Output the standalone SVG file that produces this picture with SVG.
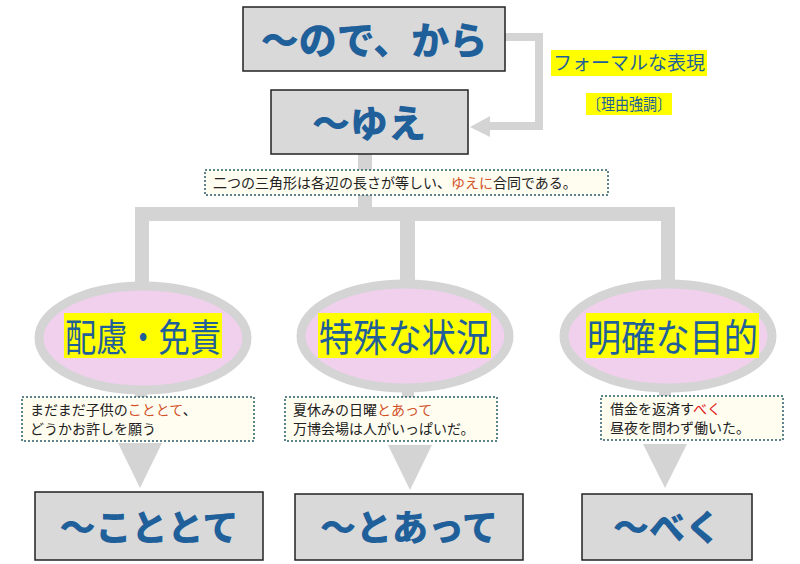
<svg xmlns="http://www.w3.org/2000/svg" width="800" height="564" viewBox="0 0 800 564">
<style>
.box{fill:#d9d9d9;stroke:#222;stroke-width:1.5}
.big{font-family:"Noto Sans CJK JP",sans-serif;font-weight:900;fill:#1f5f9a;text-anchor:middle}
.ell{fill:#f0d0ec;stroke:#d4d4d4;stroke-width:9}
.lab{font-family:"Noto Sans CJK JP",sans-serif;font-size:38px;fill:#1f5f9a}
.hl{fill:#ffff00}
.note{fill:#fffdf0;stroke:#2a5d6a;stroke-width:1.5;stroke-dasharray:2 2}
.nt{font-family:"Noto Sans CJK JP",sans-serif;font-size:14px;fill:#222}
.red{fill:#d2522a}
.g{fill:#d4d4d4}
</style>
<g id="connectors" class="g">
<polygon points="505,33 543,33 543,130 490,130 490,137 470,127 490,116 490,122 535,122 535,41 505,41"/>
<rect x="358" y="154" width="14" height="62"/>
<rect x="135" y="207" width="540" height="14"/>
<rect x="135" y="207" width="14" height="78"/>
<rect x="400" y="207" width="15" height="75"/>
<rect x="661" y="207" width="14" height="75"/>
<rect x="135" y="390" width="12" height="10"/>
<rect x="402" y="390" width="12" height="10"/>
<rect x="659" y="390" width="12" height="10"/>
<polygon points="118,443 162,443 140,488"/>
<polygon points="388,445 432,445 410,490"/>
<polygon points="643,444 687,444 665,488"/>
</g>
<g id="n1"><rect class="box" x="243" y="7" width="262" height="64"/><text class="big" x="374" y="54" font-size="38">～ので、から</text></g>
<g id="n2"><rect class="box" x="271" y="90" width="197" height="64"/><text class="big" x="369" y="137" font-size="38">～ゆえ</text></g>
<g id="lbl1"><rect class="hl" x="551" y="50" width="156" height="26"/><text x="553" y="70" font-family="Noto Sans CJK JP,sans-serif" font-size="19" fill="#1f5f9a" textLength="152" lengthAdjust="spacingAndGlyphs">フォーマルな表現</text></g>
<g id="lbl2"><rect class="hl" x="586" y="93" width="86" height="22"/><text x="587" y="110" font-family="Noto Sans CJK JP,sans-serif" font-size="16" fill="#1f5f9a" textLength="84" lengthAdjust="spacingAndGlyphs">〔理由強調〕</text></g>
<g id="ex0"><rect class="note" x="205" y="170" width="403" height="25"/><text class="nt" x="213" y="188">二つの三角形は各辺の長さが等しい、<tspan class="red">ゆえに</tspan>合同である。</text></g>
<g id="e1"><ellipse class="ell" cx="143" cy="338" rx="104" ry="52"/><rect class="hl" x="64" y="313" width="158" height="45"/><text class="lab" x="65" y="351" textLength="156" lengthAdjust="spacingAndGlyphs">配慮・免責</text></g>
<g id="e2"><ellipse class="ell" cx="405" cy="336" rx="104" ry="52"/><rect class="hl" x="318" y="313" width="173" height="45"/><text class="lab" x="319" y="351" textLength="171" lengthAdjust="spacingAndGlyphs">特殊な状況</text></g>
<g id="e3"><ellipse class="ell" cx="668" cy="336" rx="104" ry="52"/><rect class="hl" x="586" y="313" width="173" height="45"/><text class="lab" x="587" y="351" textLength="171" lengthAdjust="spacingAndGlyphs">明確な目的</text></g>
<g id="ex1"><rect class="note" x="22" y="397" width="232" height="44"/><text class="nt" x="30" y="415">まだまだ子供の<tspan class="red">こととて</tspan>、</text><text class="nt" x="30" y="434">どうかお許しを願う</text></g>
<g id="ex2"><rect class="note" x="285" y="397" width="212" height="44"/><text class="nt" x="293" y="415">夏休みの日曜<tspan class="red">とあって</tspan></text><text class="nt" x="293" y="434">万博会場は人がいっぱいだ。</text></g>
<g id="ex3"><rect class="note" x="601" y="396" width="182" height="44"/><text class="nt" x="610" y="414">借金を返済す<tspan fill="#e02020">べく</tspan></text><text class="nt" x="610" y="433">昼夜を問わず働いた。</text></g>
<g id="b1"><rect class="box" x="35" y="492" width="228" height="68"/><text class="big" x="149" y="541" font-size="36">～こととて</text></g>
<g id="b2"><rect class="box" x="295" y="494" width="228" height="66"/><text class="big" x="409" y="541" font-size="36">～とあって</text></g>
<g id="b3"><rect class="box" x="582" y="494" width="170" height="66"/><text class="big" x="667" y="541" font-size="36">～べく</text></g>
</svg>
